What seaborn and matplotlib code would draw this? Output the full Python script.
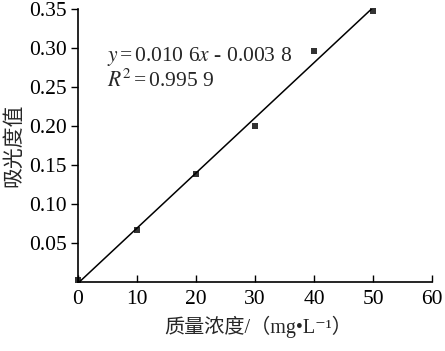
import matplotlib
matplotlib.use("Agg")
import matplotlib.pyplot as plt
import seaborn as sns
import pandas as pd

concentration = [0, 10, 20, 30, 40, 50]
absorbance = [0.002, 0.067, 0.139, 0.200, 0.296, 0.3475]
x_ticks = [0, 10, 20, 30, 40, 50, 60]
y_ticks = [0.05, 0.10, 0.15, 0.20, 0.25, 0.30, 0.35]
equation_text = r"$y\,$=$\,$0.010 6$x$ - 0.003 8"
r2_text = r"$R^2\,$=$\,$0.995 9"
x_label = "质量浓度/（mg•L⁻¹）"
y_label = "吸光度值"

sns.set_style("ticks")
plt.rcParams["font.family"] = ["Liberation Serif", "Noto Sans CJK SC", "DejaVu Sans"]
plt.rcParams["mathtext.fontset"] = "stix"

df = pd.DataFrame({"c": concentration, "a": absorbance})

fig = plt.figure(figsize=(4.45, 3.51), dpi=100)
ax = fig.add_axes([0.1753, 0.1966, 0.7957, 0.7774])

sns.regplot(data=df, x="c", y="a", ax=ax, ci=None, truncate=True,
            marker="s", color="black",
            scatter_kws={"s": 22, "linewidths": 0, "zorder": 3, "clip_on": False},
            line_kws={"lw": 1.1, "color": "black"})

ax.set_xlim(0, 60)
ax.set_ylim(0, 0.35)
ax.set_xticks(x_ticks)
ax.set_xticklabels([str(t) for t in x_ticks])
ax.set_yticks(y_ticks)
ax.set_yticklabels([f"{t:.2f}" for t in y_ticks])
ax.tick_params(axis="x", direction="in", length=5, width=1, labelsize=15.5, pad=6, colors="black")
ax.tick_params(axis="y", direction="out", length=5, width=1, labelsize=15.5, pad=3, colors="black")
for s in ["top", "right"]:
    ax.spines[s].set_visible(False)
for s in ["left", "bottom"]:
    ax.spines[s].set_linewidth(1.2)
    ax.spines[s].set_color("black")

ax.set_xlabel(x_label, fontsize=14.5)
ax.xaxis.set_label_coords(0.51, -0.125)
ax.set_ylabel(y_label, fontsize=15)
ax.yaxis.set_label_coords(-0.153, 0.5)

ax.text(0.082, 0.825, equation_text, transform=ax.transAxes, fontsize=15.5, va="center", ha="left")
ax.text(0.082, 0.737, r2_text, transform=ax.transAxes, fontsize=15.5, va="center", ha="left")

fig.savefig("out.png", dpi=100, facecolor="white")
